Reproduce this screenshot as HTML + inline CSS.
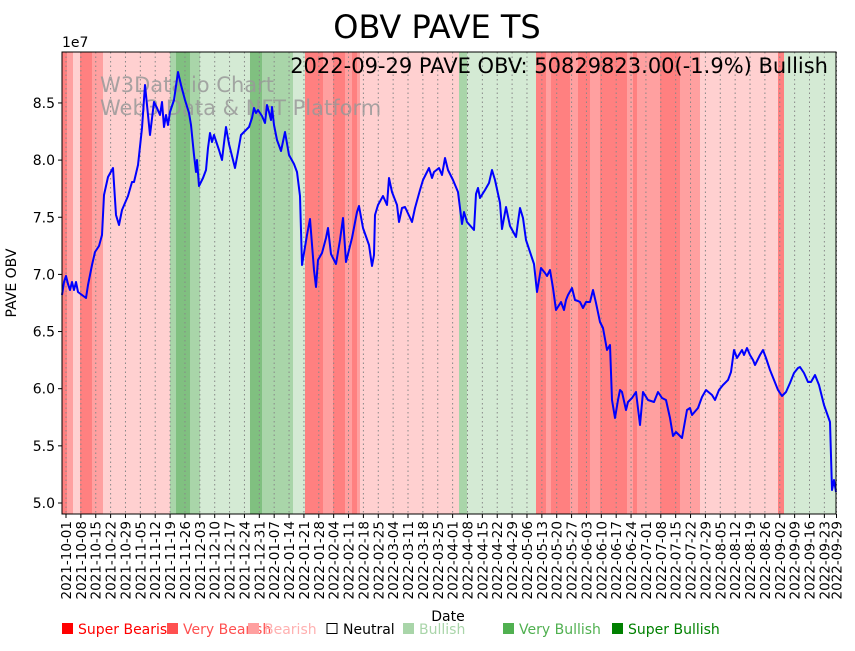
<!DOCTYPE html>
<html><head><meta charset="utf-8"><style>
body{margin:0;background:#fff}
svg text{font-family:"DejaVu Sans","Liberation Sans",sans-serif}
</style></head><body>
<svg width="855" height="646" viewBox="0 0 855 646" xmlns="http://www.w3.org/2000/svg">
<rect width="855" height="646" fill="#fff"/>
<g id="bands">
<rect x="62" y="52" width="5" height="462" fill="#ff8080"/>
<rect x="67" y="52" width="6" height="462" fill="#ffa0a0"/>
<rect x="73" y="52" width="7" height="462" fill="#ffd0d0"/>
<rect x="80" y="52" width="12" height="462" fill="#ff8080"/>
<rect x="92" y="52" width="11" height="462" fill="#ffa0a0"/>
<rect x="103" y="52" width="67" height="462" fill="#ffd0d0"/>
<rect x="170" y="52" width="6" height="462" fill="#a9d5a9"/>
<rect x="176" y="52" width="14" height="462" fill="#80c080"/>
<rect x="190" y="52" width="10" height="462" fill="#a9d5a9"/>
<rect x="200" y="52" width="50" height="462" fill="#d4ead4"/>
<rect x="250" y="52" width="12" height="462" fill="#80c080"/>
<rect x="262" y="52" width="31" height="462" fill="#a9d5a9"/>
<rect x="293" y="52" width="12" height="462" fill="#d4ead4"/>
<rect x="305" y="52" width="18" height="462" fill="#ff8080"/>
<rect x="323" y="52" width="10" height="462" fill="#ffa0a0"/>
<rect x="333" y="52" width="12" height="462" fill="#ff8080"/>
<rect x="345" y="52" width="7" height="462" fill="#ffa0a0"/>
<rect x="352" y="52" width="5" height="462" fill="#ff8080"/>
<rect x="357" y="52" width="3" height="462" fill="#ffa0a0"/>
<rect x="360" y="52" width="99" height="462" fill="#ffd0d0"/>
<rect x="459" y="52" width="8" height="462" fill="#a9d5a9"/>
<rect x="467" y="52" width="69" height="462" fill="#d4ead4"/>
<rect x="536" y="52" width="10" height="462" fill="#ff8080"/>
<rect x="546" y="52" width="5" height="462" fill="#ffa0a0"/>
<rect x="551" y="52" width="19" height="462" fill="#ff8080"/>
<rect x="570" y="52" width="8" height="462" fill="#ffa0a0"/>
<rect x="578" y="52" width="12" height="462" fill="#ff8080"/>
<rect x="590" y="52" width="10" height="462" fill="#ffa0a0"/>
<rect x="600" y="52" width="27" height="462" fill="#ff8080"/>
<rect x="627" y="52" width="6" height="462" fill="#ffa0a0"/>
<rect x="633" y="52" width="4" height="462" fill="#ff8080"/>
<rect x="637" y="52" width="23" height="462" fill="#ffa0a0"/>
<rect x="660" y="52" width="20" height="462" fill="#ff8080"/>
<rect x="680" y="52" width="20" height="462" fill="#ffa0a0"/>
<rect x="700" y="52" width="78" height="462" fill="#ffd0d0"/>
<rect x="778" y="52" width="6" height="462" fill="#ff8080"/>
<rect x="784" y="52" width="52" height="462" fill="#d4ead4"/>
</g>
<g stroke="#888" stroke-width="1" stroke-dasharray="1.5,3" id="grid"></g>
<text x="100" y="92" font-size="21" fill="#999" fill-opacity="0.85">W3Data.io Chart</text>
<text x="100" y="115" font-size="21" fill="#999" fill-opacity="0.85">Web3 Data &amp; NFT Platform</text>
<polyline fill="none" stroke="#0000ff" stroke-width="2" stroke-linejoin="round" points="62,295 64,282 66,276 68,284 70,290 72,282 74,290 76,282 78,292 82,295 86,298 88,285 92,265 95,252 99,246 102,235 104,195 108,177 113,168 116,215 119,225 122,210 128,196 132,182 134,182 138,165 142,128 145,85 148,115 150,135 154,102 157,108 160,115 162,102 164,127 166,115 168,125 170,112 174,100 178,72 181,85 185,100 189,113 191,125 194,155 196,172 197,160 199,186 203,178 206,170 208,148 210,133 212,142 214,135 219,150 222,160 224,143 226,127 229,144 235,168 238,152 241,135 246,130 249,127 252,118 254,108 256,113 258,110 262,116 265,123 267,105 269,112 271,120 272,107 274,125 277,140 281,151 285,132 289,155 294,164 297,172 300,196 302,265 304,253 307,235 310,219 314,270 316,287 318,260 322,253 326,238 328,228 331,254 334,260 336,264 340,240 343,218 346,262 352,238 357,212 359,206 363,228 369,245 372,266 374,255 375,215 378,205 383,196 387,205 389,178 392,192 397,205 399,222 402,208 405,207 412,222 415,208 420,190 423,180 429,168 432,178 434,172 439,168 442,175 445,158 448,170 453,180 458,192 462,224 464,212 467,222 474,230 476,194 478,188 480,198 485,190 489,183 492,170 495,180 500,203 502,229 506,207 510,226 516,237 518,222 520,208 523,218 526,240 530,252 534,264 537,292 541,268 545,273 547,276 550,270 553,288 556,310 561,302 564,310 566,300 568,295 572,288 575,300 578,301 580,302 583,308 586,302 590,302 593,290 596,303 600,322 603,328 607,350 610,345 612,400 615,418 618,400 620,390 622,392 626,410 628,402 632,398 636,392 640,425 643,392 648,400 654,402 658,392 662,398 666,400 670,418 673,436 676,432 682,438 687,410 690,408 692,415 698,408 702,397 706,390 712,395 715,400 719,390 723,385 728,380 731,372 734,350 737,358 742,350 744,355 747,348 750,355 753,360 755,365 760,355 763,350 766,358 770,370 774,380 778,390 782,396 786,392 790,383 794,373 798,368 800,367 804,373 808,382 811,382 815,375 819,385 824,405 830,422 832,490 834,480 836,492"/>
<rect x="62" y="52" width="774" height="462" fill="none" stroke="#000" stroke-width="1"/>
<g id="yt" font-size="14" text-anchor="end"></g>
<g id="xt" font-size="13.5"></g>
<text x="62" y="47" font-size="14">1e7</text>
<text x="16" y="283" font-size="14" text-anchor="middle" transform="rotate(-90 16 283)">PAVE OBV</text>
<text x="448" y="621" font-size="14" text-anchor="middle">Date</text>
<text x="437" y="38" font-size="32" text-anchor="middle">OBV PAVE TS</text>
<text x="828" y="73" font-size="21" text-anchor="end">2022-09-29 PAVE OBV: 50829823.00(-1.9%) Bullish</text>
<g font-size="14">
<rect x="62" y="623" width="11" height="11" fill="#ff0000"/><text x="78" y="634" fill="#ff0000">Super Bearish</text>
<rect x="167" y="623" width="11" height="11" fill="#ff5050"/><text x="183" y="634" fill="#ff5050">Very Bearish</text>
<rect x="248" y="623" width="11" height="11" fill="#ffa0a0"/><text x="264" y="634" fill="#ffb0b0">Bearish</text>
<rect x="327" y="623.5" width="10" height="10" fill="none" stroke="#000"/><text x="343" y="634" fill="#000">Neutral</text>
<rect x="403" y="623" width="11" height="11" fill="#a9d5a9"/><text x="419" y="634" fill="#a9d5a9">Bullish</text>
<rect x="503" y="623" width="11" height="11" fill="#50b050"/><text x="519" y="634" fill="#50b050">Very Bullish</text>
<rect x="612" y="623" width="11" height="11" fill="#008000"/><text x="628" y="634" fill="#008000">Super Bullish</text>
</g>
<script>
(function(){
var ns="http://www.w3.org/2000/svg";
var g=document.getElementById('grid'),xt=document.getElementById('xt'),yt=document.getElementById('yt');
var d0=new Date(Date.UTC(2021,9,1));
function lab(d){return d.toISOString().slice(0,10);}
var sp=14.87;
var xs=[];
for(var k=0;k<=51;k++){xs.push([66+k*sp,lab(new Date(d0.getTime()+k*7*864e5))]);}
xs.push([836.5,'2022-09-29']);
xs.forEach(function(p){
 var x=p[0];
 var l=document.createElementNS(ns,'line');l.setAttribute('x1',x);l.setAttribute('x2',x);l.setAttribute('y1',52);l.setAttribute('y2',514);g.appendChild(l);
 var t=document.createElementNS(ns,'line');t.setAttribute('x1',x);t.setAttribute('x2',x);t.setAttribute('y1',514);t.setAttribute('y2',518);t.setAttribute('stroke','#000');xt.appendChild(t);
 var tx=document.createElementNS(ns,'text');tx.setAttribute('transform','translate('+(x+5)+',521) rotate(-90)');tx.setAttribute('text-anchor','end');tx.textContent=p[1];xt.appendChild(tx);
});
for(var v=5.0;v<=8.51;v+=0.5){
 var y=503-(v-5)*114.3;
 var t=document.createElementNS(ns,'line');t.setAttribute('x1',58);t.setAttribute('x2',62);t.setAttribute('y1',y);t.setAttribute('y2',y);t.setAttribute('stroke','#000');yt.appendChild(t);
 var tx=document.createElementNS(ns,'text');tx.setAttribute('x',55);tx.setAttribute('y',y+5);tx.textContent=v.toFixed(1);yt.appendChild(tx);
}
})();
</script>
</svg>
</body></html>
